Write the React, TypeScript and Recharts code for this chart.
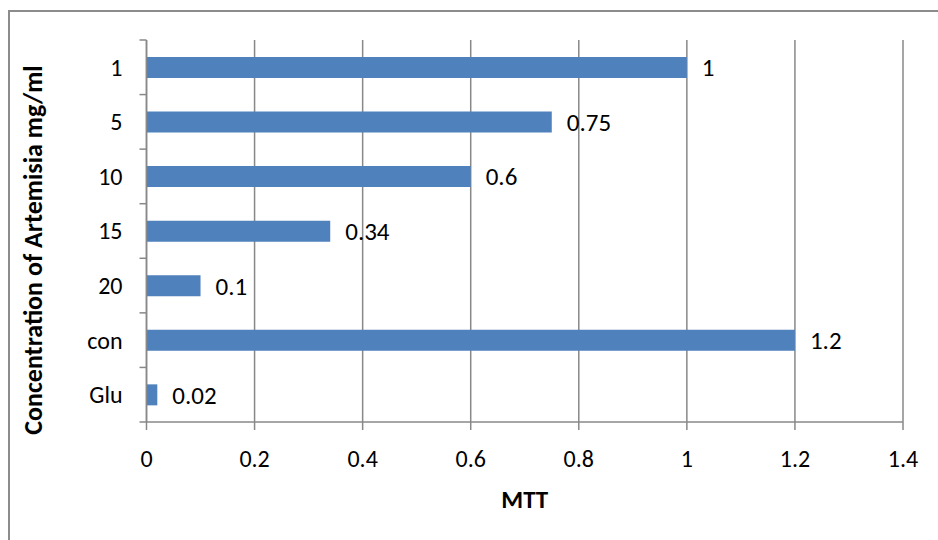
import React from "react";
import { BarChart, Bar, XAxis, YAxis, CartesianGrid, LabelList } from "recharts";

const categories = ["1", "5", "10", "15", "20", "con", "Glu"];
const mttValues = [1, 0.75, 0.6, 0.34, 0.1, 1.2, 0.02];
const xTicks = [0, 0.2, 0.4, 0.6, 0.8, 1, 1.2, 1.4];

const data = categories.map((c, i) => ({ cat: c, mtt: mttValues[i] }));

const FONT = "Carlito, Calibri, 'Open Sans', sans-serif";
const TOP = 40;
const XAXIS_H = 118;
const H = 540;
const BAND = (H - TOP - XAXIS_H) / categories.length;
const FS = 24;

const YTick = (props: any) => {
  const { y, payload, index } = props;
  const axisX = 146.5;
  return (
    <g>
      <line x1={axisX - 7} x2={axisX} y1={y - BAND / 2} y2={y - BAND / 2} stroke="#888" strokeWidth={1.5} />
      {index === categories.length - 1 && (
        <line x1={axisX - 7} x2={axisX} y1={y + BAND / 2} y2={y + BAND / 2} stroke="#888" strokeWidth={1.5} />
      )}
      <text x={axisX - 24} y={y} dy="0.35em" textAnchor="end" fontSize={FS} fill="#000" fontFamily={FONT}>
        {payload.value}
      </text>
    </g>
  );
};

export default function App() {
  return (
    <div style={{ position: "absolute", left: 0, top: 0, width: 938, height: 540, background: "#fff", overflow: "hidden" }}>
      <div
        style={{
          position: "absolute",
          left: 8,
          top: 10,
          width: 960,
          height: 560,
          borderLeft: "2px solid #8c8c8c",
          borderTop: "2px solid #8c8c8c",
          boxSizing: "border-box",
        }}
      />
      <div style={{ position: "absolute", left: 0, top: 0 }}>
        <BarChart
          width={938}
          height={540}
          data={data}
          layout="vertical"
          margin={{ top: TOP, right: 35, bottom: 0, left: 0 }}
          barCategoryGap="31%"
        >
          <CartesianGrid horizontal={false} stroke="#888" strokeWidth={1.5} />
          <XAxis
            type="number"
            domain={[0, 1.4]}
            ticks={xTicks}
            interval={0}
            height={XAXIS_H}
            axisLine={{ stroke: "#888", strokeWidth: 1.5 }}
            tickLine={{ stroke: "#888", strokeWidth: 1.5 }}
            tickSize={8}
            tickMargin={20}
            tick={{ fontSize: FS, fill: "#000", fontFamily: FONT }}
            label={{ value: "MTT", position: "insideBottom", offset: 32, fontSize: 25, fontWeight: "bold", fill: "#000", fontFamily: FONT }}
          />
          <YAxis
            type="category"
            dataKey="cat"
            width={146.5}
            axisLine={{ stroke: "#888", strokeWidth: 1.5 }}
            tickLine={false}
            tick={<YTick />}
            interval={0}
            label={{
              value: "Concentration of Artemisia mg/ml",
              angle: -90,
              position: "insideLeft",
              offset: 0,
              dx: 33,
              dy: 19,
              style: { textAnchor: "middle" },
              fontSize: 26,
              fontWeight: "bold",
              fill: "#000",
              fontFamily: FONT,
            }}
          />
          <Bar dataKey="mtt" fill="#4F81BD" isAnimationActive={false}>
            <LabelList dataKey="mtt" position="right" offset={15} fontSize={25} fill="#000" fontFamily={FONT} />
          </Bar>
        </BarChart>
      </div>
    </div>
  );
}
